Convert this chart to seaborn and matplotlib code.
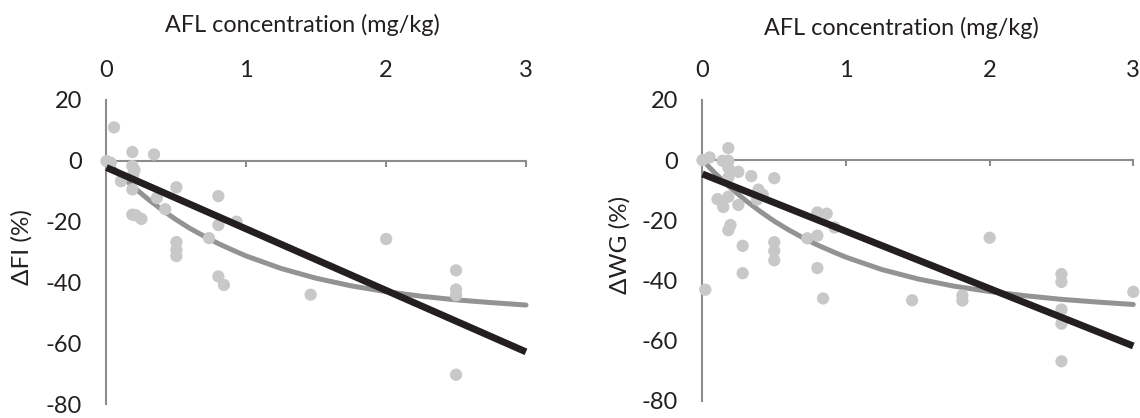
import matplotlib
matplotlib.use('Agg')
import matplotlib.pyplot as plt
import seaborn as sns

# Точки: концентрация AFL (мг/кг) и изменение FI / WG (%)
fi_x = [0.054, 0.185, 0.34, 0.0, 0.03, 0.185, 0.2, 0.19, 0.104, 0.185, 0.5, 0.36,
        0.42, 0.185, 0.21, 0.25, 0.8, 0.93, 0.8, 0.733, 0.5, 0.5, 0.5, 0.8, 0.84,
        2.0, 1.46, 2.5, 2.5, 2.5, 2.5]
fi_y = [11.0, 2.9, 2.1, -0.1, -0.6, -1.7, -3.0, -4.6, -6.7, -9.4, -8.7, -12.2,
        -15.9, -17.7, -17.9, -19.1, -11.6, -20.0, -21.1, -25.4, -26.7, -29.2, -31.3, -38.0, -40.8,
        -25.7, -44.0, -36.0, -42.3, -44.2, -70.3]

wg_x = [0.18, 0.0, 0.05, 0.14, 0.18, 0.18, 0.18, 0.25, 0.34, 0.5, 0.39, 0.42,
        0.38, 0.105, 0.18, 0.145, 0.25, 0.195, 0.18, 0.28, 0.28, 0.5, 0.5, 0.5,
        0.8, 0.865, 0.92, 0.73, 0.8, 0.8, 0.84, 0.02, 2.0, 1.46, 1.81, 1.81,
        2.5, 2.5, 2.5, 2.5, 2.5, 3.0]
wg_y = [4.0, 0.0, 0.9, -0.2, -0.2, -2.5, -5.8, -3.9, -5.3, -6.0, -9.8, -11.5,
        -13.1, -13.0, -12.2, -15.6, -14.9, -21.6, -23.3, -28.5, -37.6, -27.3, -30.2, -33.3,
        -17.4, -17.8, -22.4, -26.0, -25.1, -35.9, -46.0, -43.1, -25.8, -46.6, -45.0, -46.7,
        -37.9, -40.5, -49.7, -54.4, -66.9, -43.8]

# Кривые аппроксимации
curve_x = [0, 0.05, 0.1, 0.15, 0.2, 0.3, 0.4, 0.5, 0.6, 0.7, 0.8, 0.9, 1.0, 1.25,
           1.5, 1.75, 2.0, 2.25, 2.5, 2.75, 3.0]
fi_curve = [0, -2.4, -4.7, -6.8, -8.9, -12.7, -16.2, -19.4, -22.3, -24.8, -27.2,
            -29.3, -31.3, -35.4, -38.6, -41.1, -43.0, -44.5, -45.7, -46.6, -47.4]
wg_curve = [0, -2.5, -4.9, -7.2, -9.4, -13.4, -17.0, -20.3, -23.2, -25.8, -28.2,
            -30.3, -32.3, -36.4, -39.5, -41.9, -43.7, -45.1, -46.3, -47.2, -48.0]

line_x = [0, 3]
fi_line = [-2.2, -62.8]
wg_line = [-4.6, -61.8]

x_ticks = [0, 1, 2, 3]
y_ticks = [-80, -60, -40, -20, 0, 20]

sns.set_style('white')
plt.rcParams['font.family'] = ['Lato', 'DejaVu Sans']
plt.rcParams['axes.unicode_minus'] = False

axis_col = '#8c8c8c'
text_col = '#231f20'
dot_col = '#c8c8c8'
curve_col = '#939393'
line_col = '#231f20'

fig = plt.figure(figsize=(11.4, 4.18), dpi=100)
ax1 = fig.add_axes([0.0934, 0.033, 0.368, 0.7278])
ax2 = fig.add_axes([0.6162, 0.0414, 0.3779, 0.7194])

panels = [
    (ax1, fi_x, fi_y, fi_curve, fi_line, 'ΔFI (%)', (0.468, 1.248), (-0.201, 0.516)),
    (ax2, wg_x, wg_y, wg_curve, wg_line, 'ΔWG (%)', (0.461, 1.2395), (-0.1915, 0.518)),
]

for ax, px, py, crv, lin, ylab, xl_pos, yl_pos in panels:
    sns.lineplot(x=curve_x, y=crv, ax=ax, color=curve_col, lw=3.6, zorder=2,
                 legend=False, clip_on=False)
    sns.scatterplot(x=px, y=py, ax=ax, color=dot_col, s=78, edgecolor='none',
                    zorder=3, clip_on=False, legend=False)
    sns.lineplot(x=line_x, y=lin, ax=ax, color=line_col, lw=5, zorder=4,
                 legend=False, clip_on=False, solid_capstyle='butt')

    ax.set_xlim(0, 3)
    ax.set_ylim(-80, 20)
    ax.set_xticks(x_ticks)
    ax.set_yticks(y_ticks)
    ax.set_xticklabels([str(t) for t in x_ticks])
    ax.set_yticklabels([str(t) for t in y_ticks])

    for s in ['top', 'right']:
        ax.spines[s].set_visible(False)
    ax.spines['bottom'].set_position(('data', 0))
    for s in ['left', 'bottom']:
        ax.spines[s].set_color(axis_col)
        ax.spines[s].set_linewidth(1.5)

    ax.tick_params(axis='y', direction='out', length=4.5, width=1.5, color=axis_col,
                   pad=13, labelsize=17, labelcolor=text_col)
    ax.tick_params(axis='x', direction='out', bottom=True, top=False,
                   labelbottom=False, labeltop=True, length=4.5, width=1.5,
                   color=axis_col, pad=9, labelsize=17, labelcolor=text_col)

    ax.set_xlabel('AFL concentration (mg/kg)', fontsize=16.8, color=text_col)
    ax.xaxis.set_label_position('top')
    ax.xaxis.set_label_coords(*xl_pos)
    ax.xaxis.label.set_va('center')
    ax.set_ylabel(ylab, fontsize=17.5, color=text_col)
    ax.yaxis.set_label_coords(*yl_pos)
    ax.yaxis.label.set_va('center')

fig.savefig('out.png', dpi=100)
